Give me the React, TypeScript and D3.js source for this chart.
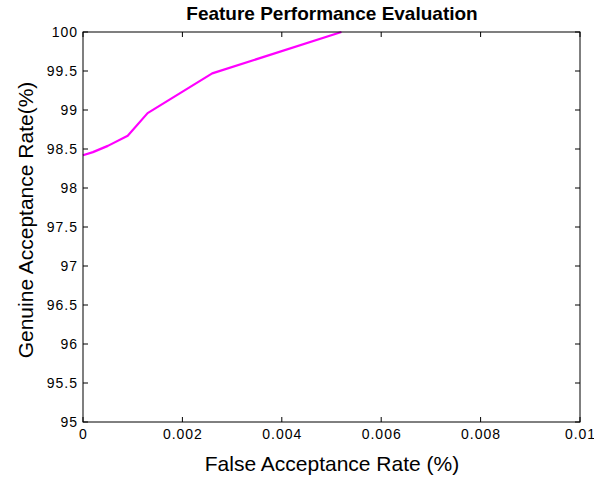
import React from "react";
import * as d3 from "d3";

const farValues = [0, 0.0002, 0.0005, 0.0009, 0.0013, 0.0026, 0.0052];
const garValues = [98.42, 98.46, 98.54, 98.67, 98.96, 99.47, 100];
const xTicks = [0, 0.002, 0.004, 0.006, 0.008, 0.01];
const xTickLabels = ["0", "0.002", "0.004", "0.006", "0.008", "0.01"];
const yTicks = [95, 95.5, 96, 96.5, 97, 97.5, 98, 98.5, 99, 99.5, 100];
const yTickLabels = ["95", "95.5", "96", "96.5", "97", "97.5", "98", "98.5", "99", "99.5", "100"];

const W = 603, H = 478;
const L = 83, R = 580, T = 32, B = 422;
const FONT = "'Liberation Sans', Arial, Helvetica, sans-serif";

export default function App() {
  const x = d3.scaleLinear().domain([0, 0.01]).range([L, R]);
  const y = d3.scaleLinear().domain([95, 100]).range([B, T]);
  const line = d3.line<number>().x((_, i) => x(farValues[i])).y((d) => y(d));
  const tl = 5;
  return (
    <svg width={W} height={H} style={{ position: "absolute", left: 0, top: 0, background: "#fff" }}>
      <defs>
        <clipPath id="pageclip"><rect x={0} y={0} width={594} height={H} /></clipPath>
      </defs>
      <rect x={0} y={0} width={W} height={H} fill="#fff" />
      <path d={line(garValues) || ""} fill="none" stroke="#ff00ff" strokeWidth={2.2} strokeLinejoin="round" />
      <rect x={L} y={T} width={R - L} height={B - T} fill="none" stroke="#000" strokeWidth={1} />
      {xTicks.map((t, i) => (
        <g key={"xt" + i}>
          <line x1={x(t)} x2={x(t)} y1={B} y2={B - tl} stroke="#000" />
          <line x1={x(t)} x2={x(t)} y1={T} y2={T + tl} stroke="#000" />
        </g>
      ))}
      {yTicks.map((t, i) => (
        <g key={"yt" + i}>
          <line x1={L} x2={L + tl} y1={y(t)} y2={y(t)} stroke="#000" />
          <line x1={R} x2={R - tl} y1={y(t)} y2={y(t)} stroke="#000" />
        </g>
      ))}
      <g clipPath="url(#pageclip)" fontFamily={FONT} fontSize={14} fill="#000" style={{ letterSpacing: "1px" }}>
        {xTicks.map((t, i) => (
          <text key={"xl" + i} x={x(t) + 0.5} y={439} textAnchor="middle">{xTickLabels[i]}</text>
        ))}
      </g>
      <g fontFamily={FONT} fontSize={14} fill="#000" style={{ letterSpacing: "1px" }}>
        {yTicks.map((t, i) => (
          <text key={"yl" + i} x={78} y={y(t) + 5} textAnchor="end">{yTickLabels[i]}</text>
        ))}
      </g>
      <text x={332} y={20} textAnchor="middle" fontFamily={FONT} fontWeight="bold" fontSize={19}>Feature Performance Evaluation</text>
      <text x={332} y={471} textAnchor="middle" fontFamily={FONT} fontSize={21}>False Acceptance Rate (%)</text>
      <text transform={`translate(33,220) rotate(-90)`} textAnchor="middle" fontFamily={FONT} fontSize={21}>Genuine Acceptance Rate(%)</text>
    </svg>
  );
}
